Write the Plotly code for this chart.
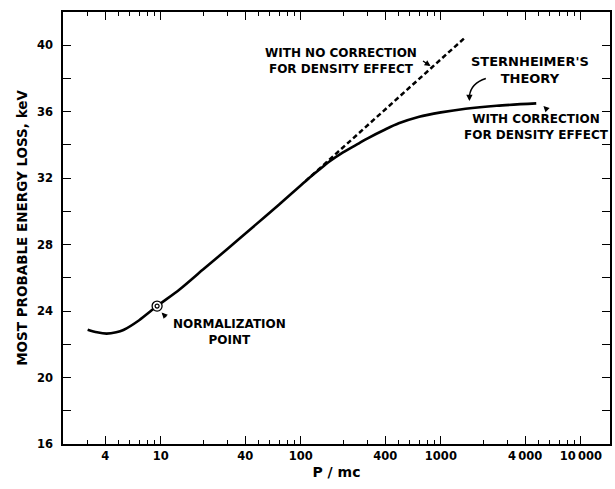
import numpy as np
import plotly.graph_objects as go

# Most probable energy loss vs. P/mc (Sternheimer's theory)
p_corr = [3.0, 3.5, 4.1, 4.8, 5.4, 7.0, 9.4, 13.6, 20, 30, 43, 70, 108, 135,
          160, 200, 260, 300, 400, 500, 700, 1000, 1500, 2500, 4800]
e_corr = [22.88, 22.72, 22.64, 22.72, 22.86, 23.45, 24.3, 25.3, 26.5, 27.75,
          28.88, 30.42, 31.82, 32.5, 33.0, 33.55, 34.1, 34.4, 34.93, 35.3,
          35.7, 35.96, 36.18, 36.36, 36.5]

# Without the density-effect correction (straight on log scale)
p_nocorr = [108, 1465]
e_nocorr = [31.82, 40.41]

# Normalization point
p_norm = [9.4]
e_norm = [24.3]

x_major = [4, 10, 40, 100, 400, 1000, 4000, 10000]
x_major_text = ["4", "10", "40", "100", "400", "1000", "4\u2009000", "10\u2009000"]
x_minor = [m * d for d in (1, 10, 100, 1000) for m in (2, 3, 5, 6, 7, 8, 9)]
y_major = [16, 20, 24, 28, 32, 36, 40]

BOLD = "DejaVu Sans"
ink = "black"

fig = go.Figure()
fig.add_trace(go.Scatter(x=p_corr, y=e_corr, mode="lines",
                         line=dict(color=ink, width=2.6, shape="spline", smoothing=0.8),
                         hoverinfo="skip", showlegend=False))
fig.add_trace(go.Scatter(x=p_nocorr, y=e_nocorr, mode="lines",
                         line=dict(color=ink, width=2.5, dash="5px,3px"),
                         hoverinfo="skip", showlegend=False))
fig.add_trace(go.Scatter(x=p_norm, y=e_norm, mode="markers",
                         marker=dict(symbol="circle", size=10, color="white",
                                     line=dict(color=ink, width=1.3)),
                         hoverinfo="skip", showlegend=False))
fig.add_trace(go.Scatter(x=p_norm, y=e_norm, mode="markers",
                         marker=dict(symbol="circle-open", size=4, color=ink,
                                     line=dict(color=ink, width=1.2)),
                         hoverinfo="skip", showlegend=False))


def label(text, p, e, size=12):
    fig.add_annotation(x=np.log10(p), y=e, xref="x", yref="y", text=text,
                       showarrow=False, align="center",
                       font=dict(family=BOLD, size=size, color=ink, weight="bold"))


def pointer(p, e, ax, ay):
    fig.add_annotation(x=np.log10(p), y=e, xref="x", yref="y", text="",
                       showarrow=True, ax=ax, ay=ay, arrowhead=2, arrowsize=0.9,
                       arrowwidth=1.3, arrowcolor=ink, standoff=0)


label("WITH NO CORRECTION<br>FOR DENSITY EFFECT", 194, 39.08)
pointer(843, 38.75, -9, -6)
label("STERNHEIMER'S<br>THEORY", 4335, 38.5, size=13)
label("WITH CORRECTION<br>FOR DENSITY EFFECT", 4810, 35.1)
pointer(5400, 36.34, 5, 5)
label("NORMALIZATION<br>POINT", 31, 22.75)
pointer(10.12, 23.91, 6, 6)

# curved arrow toward the corrected curve
fig.add_shape(type="path", xref="paper", yref="paper",
              path="M 0.7730 0.8460 Q 0.7460 0.8350 0.7430 0.8060",
              line=dict(color=ink, width=1.4))
fig.add_annotation(x=0.7430, y=0.794, xref="paper", yref="paper", text="",
                   showarrow=True, ax=0, ay=-7, arrowhead=2, arrowsize=0.9,
                   arrowwidth=1.4, arrowcolor=ink, standoff=0)

tick_font = dict(family=BOLD, size=11.5, color=ink, weight="bold")

fig.update_xaxes(type="log", range=[np.log10(2.0), 4.208],
                 tickmode="array", tickvals=x_major, ticktext=x_major_text,
                 ticks="inside", ticklen=8, tickwidth=1.4, tickcolor=ink,
                 minor=dict(tickmode="array", tickvals=x_minor, ticks="inside",
                            ticklen=4, tickwidth=1.2, tickcolor=ink),
                 showline=True, linecolor=ink, linewidth=1.6, mirror="ticks",
                 showgrid=False, zeroline=False, tickfont=tick_font,
                 ticklabelstandoff=0,
                 title=dict(text="P / mc", standoff=6,
                            font=dict(family=BOLD, size=14, color=ink, weight="bold")))
fig.update_yaxes(range=[16, 42], tickmode="array", tickvals=y_major,
                 ticks="inside", ticklen=8, tickwidth=1.4, tickcolor=ink,
                 minor=dict(dtick=2, tick0=16, ticks="inside", ticklen=8,
                            tickwidth=1.4, tickcolor=ink),
                 showline=True, linecolor=ink, linewidth=1.6, mirror="ticks",
                 showgrid=False, zeroline=False, tickfont=tick_font,
                 ticklabelstandoff=6,
                 title=dict(text="MOST PROBABLE ENERGY LOSS, keV", standoff=6,
                            font=dict(family=BOLD, size=13.5, color=ink, weight="bold")))

fig.update_layout(width=615, height=489, autosize=False,
                  margin=dict(l=63, r=3, t=12, b=45),
                  paper_bgcolor="white", plot_bgcolor="white")

fig.write_html("out.html")
